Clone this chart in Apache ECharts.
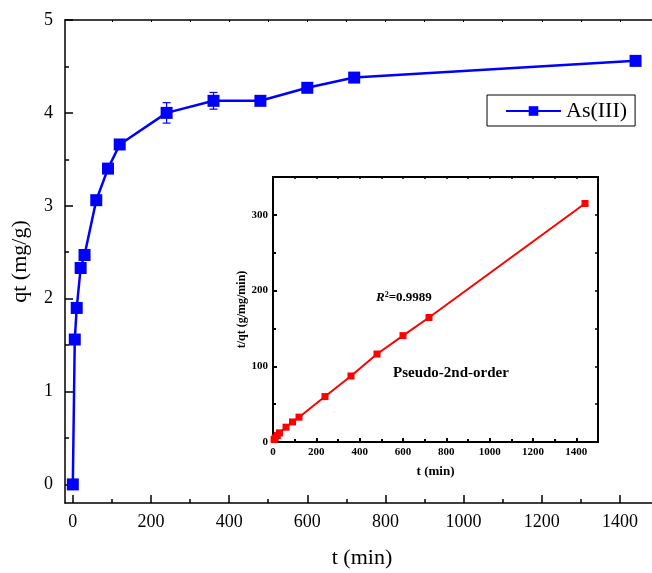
<!DOCTYPE html>
<html>
<head>
<meta charset="utf-8">
<script src="https://cdn.jsdelivr.net/npm/echarts@6/dist/echarts.min.js"></script>
<style>html,body{margin:0;padding:0;background:#fff}#c{width:652px;height:573px}</style>
</head>
<body>
<div id="c"></div>
<script>
// Main kinetics data
var times = [0, 5, 10, 20, 30, 60, 90, 120, 240, 360, 480, 600, 720, 1440];
var qt = [0, 1.56, 1.90, 2.33, 2.47, 3.06, 3.40, 3.66, 4.00, 4.13, 4.13, 4.27, 4.38, 4.56];
var qtErr = [0, 0, 0, 0, 0, 0, 0, 0, 0.11, 0.09, 0, 0, 0, 0];
// Inset: pseudo-second-order linear plot
var insetT = [5, 10, 20, 30, 60, 90, 120, 240, 360, 480, 600, 720, 1440];
var insetTq = [3.2, 5.3, 8.6, 12.1, 19.6, 26.5, 32.8, 60.0, 87.2, 116.2, 140.5, 164.4, 315.0];
// Tick labels
var mainXTicks = [0, 200, 400, 600, 800, 1000, 1200, 1400];
var mainXMinor = [100, 300, 500, 700, 900, 1100, 1300, 1500];
var mainXTop = [100, 200, 300, 400, 500, 600, 700, 800, 900, 1000, 1100, 1200, 1300, 1400, 1500];
var mainYTicks = [0, 1, 2, 3, 4, 5];
var mainYMinor = [0.5, 1.5, 2.5, 3.5, 4.5];
var insetYLabels = [0, 100, 200, 300];

var serif = '"Liberation Serif", "Times New Roman", serif';
var chart = echarts.init(document.getElementById('c'));

var mainData = times.map(function (t, i) { return [t, qt[i]]; });
var errData = times.map(function (t, i) { return [t, qt[i], qtErr[i]]; }).filter(function (d) { return d[2] > 0; });
var insetData = insetT.map(function (t, i) { return [t, insetTq[i]]; });

var plain = function (v) { return String(v); };
var lineStyleAx = { color: '#000', width: 1.5 };
var insetLbl = { color: '#000', fontFamily: serif, fontWeight: 'bold', fontSize: 11, margin: 5, formatter: plain };

var option = {
  animation: false,
  backgroundColor: '#fff',
  grid: [
    { left: 65, top: 20, right: -7, bottom: 70, outerBoundsMode: 'none', containLabel: false },
    { left: 273, top: 177, right: 54, bottom: 131, outerBoundsMode: 'none', containLabel: false }
  ],
  legend: {
    data: ['As(III)'],
    left: 487, top: 95,
    orient: 'horizontal',
    borderColor: '#000', borderWidth: 1,
    padding: [5, 8, 4, 18],
    itemWidth: 55, itemHeight: 12, itemGap: 5,
    textStyle: { fontFamily: serif, fontSize: 22, color: '#000' }
  },
  xAxis: [
    { gridIndex: 0, type: 'value', min: -20, max: 1500, position: 'bottom',
      axisLine: { onZero: false, lineStyle: lineStyleAx },
      axisTick: { inside: true, length: 8, lineStyle: { color: '#000', width: 1.5 }, customValues: mainXTicks },
      axisLabel: { customValues: mainXTicks, formatter: plain, fontFamily: serif, fontSize: 18, color: '#000', margin: 10 },
      splitLine: { show: false },
      name: 't (min)', nameLocation: 'middle', nameGap: 44,
      nameTextStyle: { fontFamily: serif, fontSize: 22, color: '#000' } },
    { gridIndex: 0, type: 'value', min: -20, max: 1500, position: 'bottom',
      axisLine: { onZero: false, show: false },
      axisTick: { inside: true, length: 4, lineStyle: { color: '#000', width: 1.5 }, customValues: mainXMinor },
      axisLabel: { show: false }, splitLine: { show: false } },
    { gridIndex: 0, type: 'value', min: -20, max: 1500, position: 'top',
      axisLine: { onZero: false, lineStyle: lineStyleAx },
      axisTick: { inside: true, length: 2, lineStyle: { color: '#000', width: 1 }, customValues: mainXTop },
      axisLabel: { show: false }, splitLine: { show: false } },
    { gridIndex: 1, type: 'value', min: 0, max: 1500, interval: 200, position: 'bottom',
      axisLine: { onZero: false, lineStyle: { color: '#000', width: 2 } },
      axisTick: { inside: true, length: 4, lineStyle: { color: '#000', width: 2 } },
      minorTick: { show: true, splitNumber: 2, length: 3, lineStyle: { color: '#000', width: 2 } },
      axisLabel: insetLbl,
      splitLine: { show: false },
      name: 't (min)', nameLocation: 'middle', nameGap: 23,
      nameTextStyle: { fontFamily: serif, fontWeight: 'bold', fontSize: 13, color: '#000' } },
    { gridIndex: 1, type: 'value', min: 0, max: 1500, interval: 100, position: 'top',
      axisLine: { onZero: false, lineStyle: { color: '#000', width: 2 } },
      axisTick: { inside: true, length: 2, lineStyle: { color: '#000', width: 1.5 } },
      axisLabel: { show: false }, splitLine: { show: false } }
  ],
  yAxis: [
    { gridIndex: 0, type: 'value', min: -0.2, max: 5, position: 'left',
      axisLine: { onZero: false, lineStyle: lineStyleAx },
      axisTick: { inside: true, length: 8, lineStyle: { color: '#000', width: 1.5 }, customValues: mainYTicks },
      axisLabel: { customValues: mainYTicks, formatter: plain, fontFamily: serif, fontSize: 18, color: '#000', margin: 12 },
      splitLine: { show: false },
      name: 'qt (mg/g)', nameLocation: 'middle', nameGap: 34, nameRotate: 90,
      nameTextStyle: { fontFamily: serif, fontSize: 22, color: '#000' } },
    { gridIndex: 0, type: 'value', min: -0.2, max: 5, position: 'left',
      axisLine: { onZero: false, show: false },
      axisTick: { inside: true, length: 4, lineStyle: { color: '#000', width: 1.5 }, customValues: mainYMinor },
      axisLabel: { show: false }, splitLine: { show: false } },
    { gridIndex: 1, type: 'value', min: 0, max: 350, interval: 100, position: 'left',
      axisLine: { onZero: false, lineStyle: { color: '#000', width: 2 } },
      axisTick: { inside: true, length: 4, lineStyle: { color: '#000', width: 2 } },
      minorTick: { show: true, splitNumber: 2, length: 3, lineStyle: { color: '#000', width: 2 } },
      axisLabel: Object.assign({}, insetLbl, { customValues: insetYLabels }),
      splitLine: { show: false },
      name: 't/qt (g/mg/min)', nameLocation: 'middle', nameGap: 25, nameRotate: 90,
      nameTextStyle: { fontFamily: serif, fontWeight: 'bold', fontSize: 12, color: '#000' } },
    { gridIndex: 1, type: 'value', min: 0, max: 350, interval: 50, position: 'right',
      axisLine: { onZero: false, lineStyle: { color: '#000', width: 2 } },
      axisTick: { inside: true, length: 3, lineStyle: { color: '#000', width: 1.5 } },
      axisLabel: { show: false }, splitLine: { show: false } }
  ],
  series: [
    { name: 'As(III)', type: 'line', xAxisIndex: 0, yAxisIndex: 0, data: mainData,
      symbol: 'rect', symbolSize: 12,
      itemStyle: { color: '#0000ff' },
      lineStyle: { color: '#0000ff', width: 2.5 }, z: 3 },
    { name: 'err', type: 'custom', xAxisIndex: 0, yAxisIndex: 0, data: errData, z: 2,
      renderItem: function (params, api) {
        var x = api.value(0), y = api.value(1), e = api.value(2);
        var top = api.coord([x, y + e]);
        var bot = api.coord([x, y - e]);
        var hw = 4;
        var st = { stroke: '#0000ff', lineWidth: 1.2 };
        return { type: 'group', children: [
          { type: 'line', shape: { x1: top[0], y1: top[1], x2: bot[0], y2: bot[1] }, style: st },
          { type: 'line', shape: { x1: top[0] - hw, y1: top[1], x2: top[0] + hw, y2: top[1] }, style: st },
          { type: 'line', shape: { x1: bot[0] - hw, y1: bot[1], x2: bot[0] + hw, y2: bot[1] }, style: st }
        ] };
      } },
    { name: 'inset', type: 'line', xAxisIndex: 3, yAxisIndex: 2, data: insetData,
      symbol: 'rect', symbolSize: 7,
      itemStyle: { color: '#ff0000' },
      lineStyle: { color: '#ff0000', width: 2 } }
  ],
  graphic: [
    { type: 'text', left: 376, top: 291,
      style: { rich: {
        r: { fontFamily: serif, fontWeight: 'bold', fontStyle: 'italic', fontSize: 13, fill: '#000' },
        s: { fontFamily: serif, fontWeight: 'bold', fontSize: 8, fill: '#000', verticalAlign: 'top', padding: [0, 0, 6, 0] },
        n: { fontFamily: serif, fontWeight: 'bold', fontSize: 13, fill: '#000' }
      }, text: '{r|R}{s|2}{n|=0.9989}' } },
    { type: 'text', left: 393, top: 366,
      style: { text: 'Pseudo-2nd-order', fontFamily: serif, fontWeight: 'bold', fontSize: 15, fill: '#000' } }
  ]
};
chart.setOption(option);
</script>
</body>
</html>
